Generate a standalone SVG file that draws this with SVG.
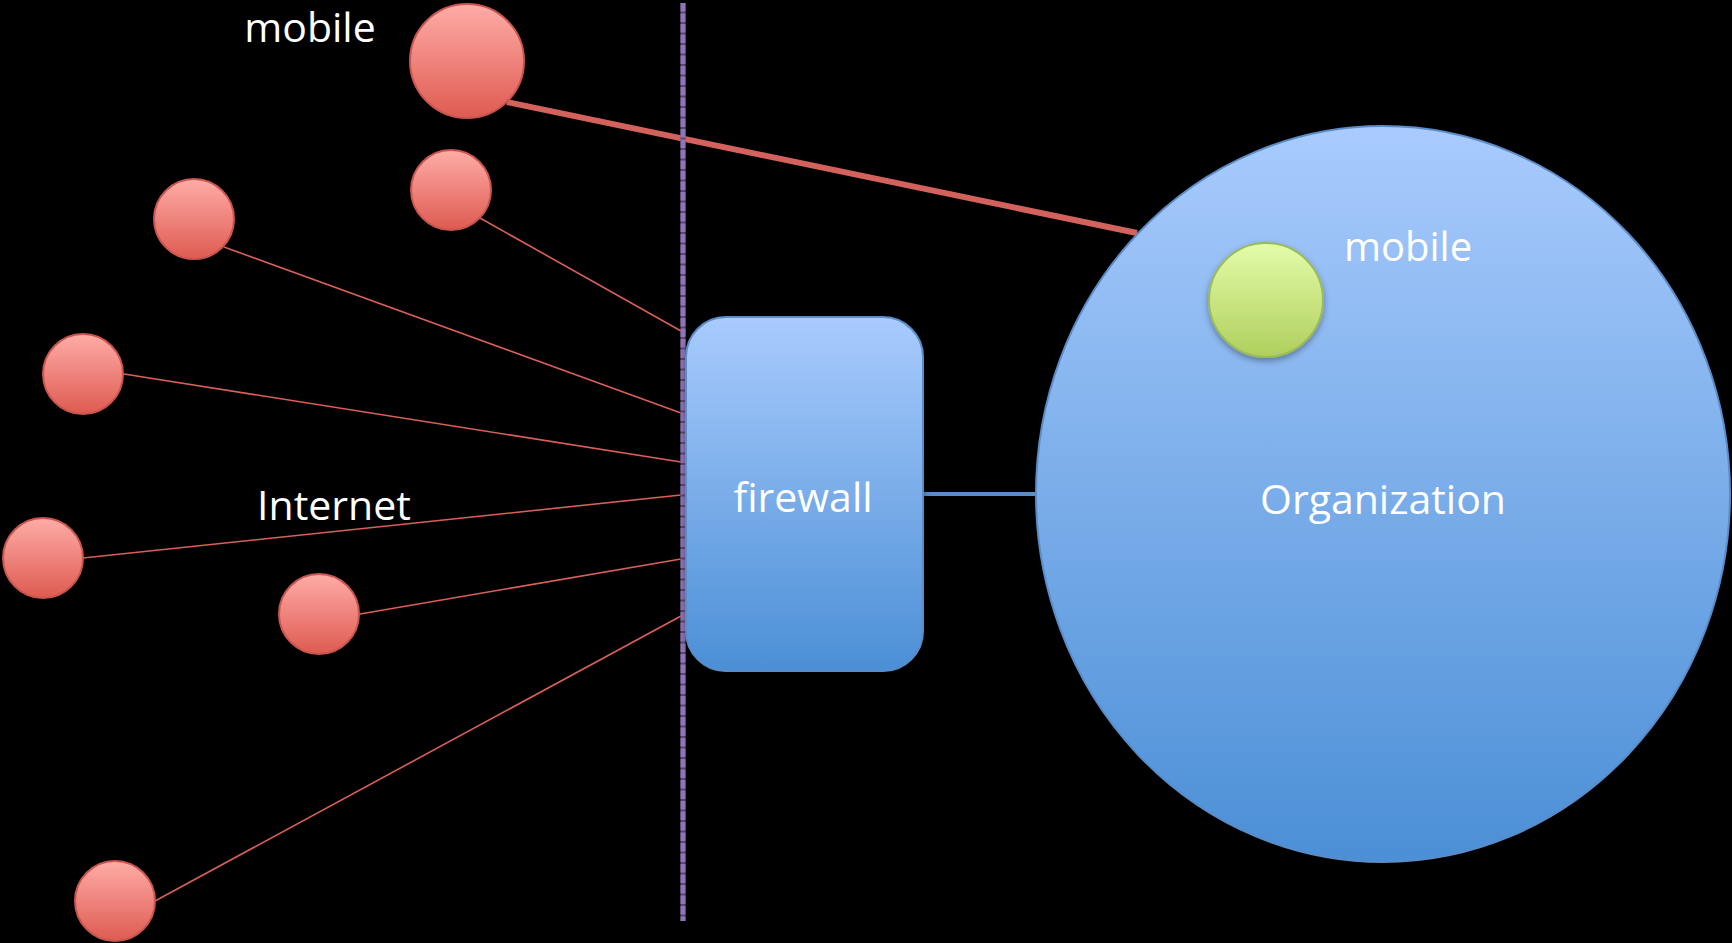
<svg xmlns="http://www.w3.org/2000/svg" width="1732" height="943" viewBox="0 0 1732 943">
<defs>
<linearGradient id="gRed" x1="0" y1="0" x2="0" y2="1"><stop offset="0" stop-color="#ffaca7"/><stop offset="1" stop-color="#de5b51"/></linearGradient>
<linearGradient id="gBlue" x1="0" y1="0" x2="0" y2="1"><stop offset="0" stop-color="#a9cbfd"/><stop offset="1" stop-color="#4b8fd6"/></linearGradient>
<linearGradient id="gGreen" x1="0" y1="0" x2="0" y2="1"><stop offset="0" stop-color="#e4fcaa"/><stop offset="1" stop-color="#afcf5c"/></linearGradient>
<filter id="sh" x="-20%" y="-20%" width="140%" height="150%"><feDropShadow dx="0" dy="3" stdDeviation="3" flood-color="#000" flood-opacity="0.35"/></filter>
</defs>
<style>
.red{fill:url(#gRed);stroke:#c9554f;stroke-width:2}
.lnk{stroke:#d9605a;stroke-width:1.6;fill:none}
.lbl{font-family:"Open Sans","Noto Sans",sans-serif;font-size:41px;fill:#ffffff;text-anchor:middle}
</style>
<rect width="1732" height="943" fill="#000"/>
<g id="connectors">
<line x1="507" y1="102" x2="1137" y2="233" stroke="#d4625c" stroke-width="6"/>
<line class="lnk" x1="480" y1="218" x2="681" y2="331"/>
<line class="lnk" x1="224" y1="247" x2="681" y2="413"/>
<line class="lnk" x1="124" y1="374" x2="681" y2="462"/>
<line class="lnk" x1="83" y1="558" x2="681" y2="495"/>
<line class="lnk" x1="360" y1="614" x2="681" y2="559"/>
<line class="lnk" x1="155" y1="901" x2="681" y2="616"/>
<line x1="923" y1="494" x2="1036" y2="494" stroke="#5a8cc8" stroke-width="4"/>
</g>
<g id="boundary">
<line x1="683" y1="3" x2="683" y2="921" stroke="#5a4a70" stroke-width="5"/>
<line x1="683" y1="3" x2="683" y2="921" stroke="#8f74b8" stroke-width="5" stroke-dasharray="8.5 2"/>
</g>
<g id="mobile-top">
<circle class="red" cx="467" cy="61" r="57"/>
<text class="lbl" x="310" y="42">mobile</text>
</g>
<g id="node-2"><circle class="red" cx="451" cy="190" r="40"/></g>
<g id="node-3"><circle class="red" cx="194" cy="219" r="40"/></g>
<g id="node-4"><circle class="red" cx="83" cy="374" r="40"/></g>
<g id="node-5"><circle class="red" cx="43" cy="558" r="40"/></g>
<g id="node-6"><circle class="red" cx="319" cy="614" r="40"/></g>
<g id="node-7"><circle class="red" cx="115" cy="901" r="40"/></g>
<g id="internet-label"><text class="lbl" x="334" y="520">Internet</text></g>
<g id="firewall">
<rect x="686" y="317" width="237" height="354" rx="40" ry="40" fill="url(#gBlue)" stroke="#5a8cc8" stroke-width="2" filter="url(#sh)"/>
<text class="lbl" x="803" y="512">firewall</text>
</g>
<g id="organization">
<ellipse cx="1383" cy="494" rx="347" ry="368" fill="url(#gBlue)" stroke="#5a8cc8" stroke-width="2"/>
<text class="lbl" x="1383" y="514">Organization</text>
</g>
<g id="mobile-inside">
<circle cx="1266" cy="300" r="57" fill="url(#gGreen)" stroke="#9bbb59" stroke-width="2" filter="url(#sh)"/>
<text class="lbl" x="1408" y="261" style="font-size:40px">mobile</text>
</g>
</svg>
